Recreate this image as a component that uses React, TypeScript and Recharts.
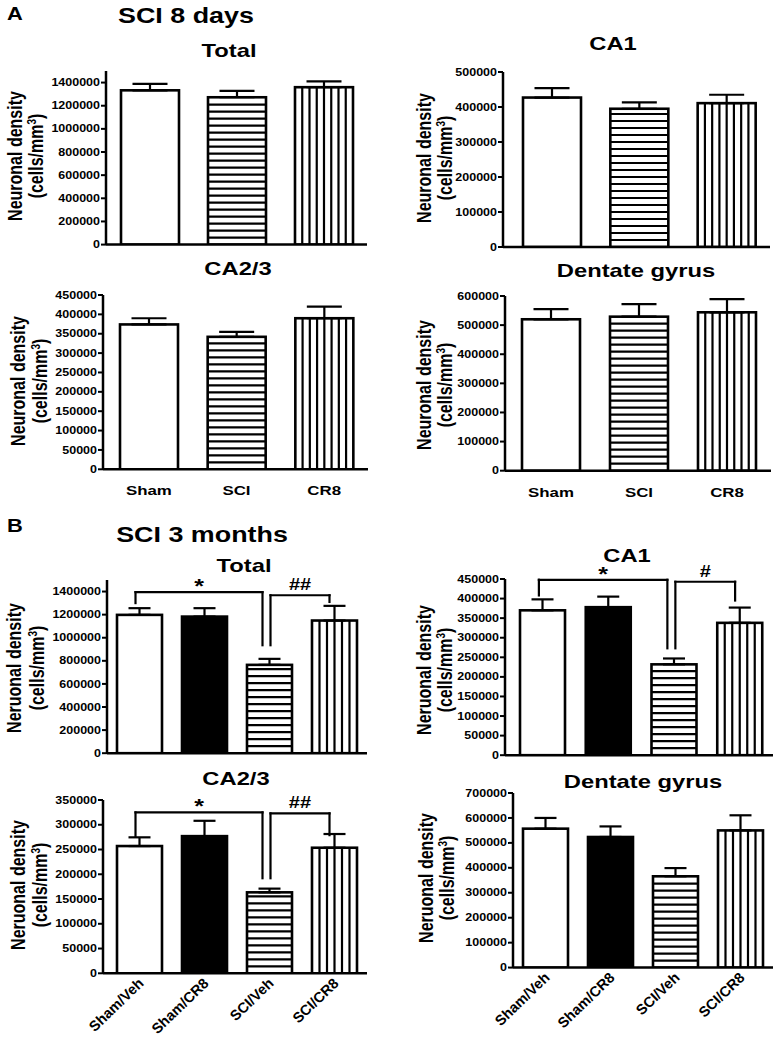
import React from 'react';
import { BarChart, Bar, XAxis, YAxis, ErrorBar, ReferenceLine } from 'recharts';

const FONT = '"Liberation Sans", Arial, Helvetica, sans-serif';
const SX = 1.25; // horizontal stretch of the original figure

// ---------- categories ----------
const groupsA = ['Sham', 'SCI', 'CR8'];
const groupsB = ['Sham/Veh', 'Sham/CR8', 'SCI/Veh', 'SCI/CR8'];

// ---------- SCI 8 days ----------
const a8TotalMean = [1333000, 1273000, 1360000];
const a8TotalErr = [56000, 55000, 51000];
const a8Ca1Mean = [427000, 395000, 411000];
const a8Ca1Err = [27000, 18000, 24000];
const a8Ca23Mean = [374000, 342000, 390000];
const a8Ca23Err = [16000, 13000, 30000];
const a8DgMean = [520000, 529000, 544000];
const a8DgErr = [35000, 43000, 45000];

// ---------- SCI 3 months ----------
const b3TotalMean = [1198000, 1183000, 765000, 1149000];
const b3TotalErr = [58000, 73000, 52000, 127000];
const b3Ca1Mean = [370000, 378000, 232000, 338000];
const b3Ca1Err = [28000, 27000, 15000, 39000];
const b3Ca23Mean = [257000, 277000, 163500, 253600];
const b3Ca23Err = [17600, 31000, 7500, 27700];
const b3DgMean = [557000, 523600, 366000, 550000];
const b3DgErr = [43000, 42400, 33000, 60600];

// ---------- tick values ----------
const ticksTotal = [0, 200000, 400000, 600000, 800000, 1000000, 1200000, 1400000];
const ticks500k = [0, 100000, 200000, 300000, 400000, 500000];
const ticks450k = [0, 50000, 100000, 150000, 200000, 250000, 300000, 350000, 400000, 450000];
const ticks600k = [0, 100000, 200000, 300000, 400000, 500000, 600000];
const ticks350k = [0, 50000, 100000, 150000, 200000, 250000, 300000, 350000];
const ticks700k = [0, 100000, 200000, 300000, 400000, 500000, 600000, 700000];

// ---------- significance brackets ----------
const bracketsBTotal = [
  { from: 'Sham/Veh', to: 'SCI/Veh', top: 1395000, fromLow: 1300000, toLow: 935000, label: '*' },
  { from: 'SCI/Veh', to: 'SCI/CR8', top: 1368000, fromLow: 935000, toLow: 1310000, label: '##' },
];
const bracketsBCa1 = [
  { from: 'Sham/Veh', to: 'SCI/Veh', top: 448000, fromLow: 408000, toLow: 273000, label: '*' },
  { from: 'SCI/Veh', to: 'SCI/CR8', top: 443000, fromLow: 273000, toLow: 395000, label: '#' },
];
const bracketsBCa23 = [
  { from: 'Sham/Veh', to: 'SCI/Veh', top: 325000, fromLow: 276000, toLow: 192000, label: '*' },
  { from: 'SCI/Veh', to: 'SCI/CR8', top: 323000, fromLow: 192000, toLow: 279000, label: '##' },
];

const patternsA = ['open', 'hstripe', 'vstripe'];
const patternsB = ['open', 'solid', 'hstripe', 'vstripe'];
const bracketDx = [
  [-4, -7],
  [1, -5],
];

function PatternBar(props: any) {
  const { x, y, width, height, pat } = props;
  if (!(height > 0)) return null;
  const lines: any[] = [];
  if (pat === 'hstripe') {
    for (let yy = y + height - 7; yy > y + 3; yy -= 7) {
      lines.push(<line key={'h' + yy} x1={x} x2={x + width} y1={yy} y2={yy} stroke="#000" strokeWidth={2.2} />);
    }
  } else if (pat === 'vstripe') {
    const n = Math.max(1, Math.round(width / 7.3));
    for (let k = 1; k < n; k++) {
      const xx = x + (k * width) / n;
      lines.push(<line key={'v' + k} x1={xx} x2={xx} y1={y} y2={y + height} stroke="#000" strokeWidth={2.2} />);
    }
  }
  return (
    <g>
      <rect x={x} y={y} width={width} height={height} fill={pat === 'solid' ? '#000' : '#fff'} />
      {lines}
      <rect x={x} y={y} width={width} height={height} fill="none" stroke="#000" strokeWidth={2.6} />
    </g>
  );
}

function YTick(props: any) {
  const { x, y, payload } = props;
  return (
    <g transform={`translate(${x},${y}) scale(${SX},1)`}>
      <text x={0} y={0} dy="0.36em" textAnchor="end" fontFamily={FONT} fontWeight="bold" fontSize={10} fill="#000">
        {payload.value}
      </text>
    </g>
  );
}

function XTickFlat(props: any) {
  const { x, payload, axisY } = props;
  return (
    <g transform={`translate(${x},${axisY + 26}) scale(${SX},1)`}>
      <text x={0} y={0} textAnchor="middle" fontFamily={FONT} fontWeight="bold" fontSize={13.5} fill="#000">
        {payload.value}
      </text>
    </g>
  );
}

function XTickRot(props: any) {
  const { x, payload, axisY } = props;
  return (
    <g transform={`translate(${x + 5},${axisY + 11}) rotate(-44)`}>
      <text x={0} y={0} textAnchor="end" fontFamily={FONT} fontWeight="bold" fontSize={14.5} fill="#000">
        {payload.value}
      </text>
    </g>
  );
}

function renderBrackets(brackets: any[]) {
  const out: any[] = [];
  brackets.forEach((b, i) => {
    const [dxL, dxR] = bracketDx[i];
    const isStar = b.label === '*';
    out.push(
      <ReferenceLine
        key={'t' + i}
        segment={[{ x: b.from, y: b.top }, { x: b.to, y: b.top }]}
        ifOverflow="visible"
        shape={(p: any) => {
          const xa = p.x1 + dxL;
          const xb = p.x2 + dxR;
          const mid = (xa + xb) / 2;
          return (
            <g>
              <line x1={xa} x2={xb} y1={p.y1} y2={p.y2} stroke="#000" strokeWidth={2.2} strokeLinecap="square" />
              <g transform={`translate(${mid},${p.y1 + (isStar ? 1 : -5)}) scale(${SX},1)`}>
                <text x={0} y={0} textAnchor="middle" fontFamily={FONT} fontWeight="bold" fontSize={isStar ? 20 : 16} fill="#000">
                  {b.label}
                </text>
              </g>
            </g>
          );
        }}
      />
    );
    out.push(
      <ReferenceLine
        key={'l' + i}
        segment={[{ x: b.from, y: b.top }, { x: b.from, y: b.fromLow }]}
        ifOverflow="visible"
        shape={(p: any) => (
          <line x1={p.x1 + dxL} x2={p.x2 + dxL} y1={p.y1} y2={p.y2} stroke="#000" strokeWidth={2.2} strokeLinecap="square" />
        )}
      />
    );
    out.push(
      <ReferenceLine
        key={'r' + i}
        segment={[{ x: b.to, y: b.top }, { x: b.to, y: b.toLow }]}
        ifOverflow="visible"
        shape={(p: any) => (
          <line x1={p.x1 + dxR} x2={p.x2 + dxR} y1={p.y1} y2={p.y2} stroke="#000" strokeWidth={2.2} strokeLinecap="square" />
        )}
      />
    );
  });
  return out;
}

function Panel(props: any) {
  const { x0, x1, yTop, yBot, padL, groups, means, errs, patterns, yMax, ticks, barSize, capW, xLabels, brackets } = props;
  const mL = 60, mT = 30, mR = 10, mB = 10, xH = 70;
  const width = x1 - x0 + mL + mR;
  const height = yBot - yTop + mT + mB + xH;
  const axisY = yBot - yTop + mT;
  const data = groups.map((g: string, i: number) => ({ name: g, value: means[i], err: [0, errs[i]] }));
  let tick: any = false;
  if (xLabels === 'flat') tick = (p: any) => <XTickFlat {...p} axisY={axisY} />;
  if (xLabels === 'rot') tick = (p: any) => <XTickRot {...p} axisY={axisY} />;
  return (
    <div style={{ position: 'absolute', left: x0 - mL, top: yTop - mT }}>
      <BarChart width={width} height={height} data={data} margin={{ top: mT, right: mR, left: 0, bottom: mB }}>
        <XAxis
          dataKey="name"
          height={xH}
          axisLine={{ stroke: '#000', strokeWidth: 2.5 }}
          tickLine={false}
          padding={{ left: padL, right: 0 }}
          tick={tick}
          interval={0}
        />
        <YAxis
          width={mL}
          domain={[0, yMax]}
          ticks={ticks}
          allowDataOverflow
          interval={0}
          axisLine={{ stroke: '#000', strokeWidth: 2.5 }}
          tickLine={{ stroke: '#000', strokeWidth: 2 }}
          tickSize={5}
          tickMargin={1}
          tick={(p: any) => <YTick {...p} />}
        />
        <Bar
          dataKey="value"
          barSize={barSize}
          isAnimationActive={false}
          shape={(p: any) => <PatternBar {...p} pat={patterns[p.index]} />}
        >
          <ErrorBar dataKey="err" width={capW} strokeWidth={2.2} stroke="#000" direction="y" />
        </Bar>
        {brackets ? renderBrackets(brackets) : null}
      </BarChart>
    </div>
  );
}

function T(props: any) {
  const { x, y, size, anchor = 'middle', rot = false, children } = props;
  return (
    <g transform={`translate(${x},${y}) scale(${SX},1)${rot ? ' rotate(-90)' : ''}`}>
      <text x={0} y={0} textAnchor={anchor} fontFamily={FONT} fontWeight="bold" fontSize={size} fill="#000">
        {children}
      </text>
    </g>
  );
}

function YLabel(props: any) {
  const { x1, x2, cy, word } = props;
  return (
    <g>
      <T x={x1} y={cy} size={16} rot>
        {word}
      </T>
      <T x={x2} y={cy} size={16} rot>
        (cells/mm
        <tspan dy={-6} fontSize={10}>3</tspan>
        <tspan dy={6}>)</tspan>
      </T>
    </g>
  );
}

export default function App() {
  return (
    <div style={{ position: 'absolute', left: 0, top: 0, width: 777, height: 1037, background: '#fff', overflow: 'hidden' }}>
      <svg width={777} height={1037} style={{ position: 'absolute', left: 0, top: 0 }}>
        <T x={7} y={20} size={17.5} anchor="start">A</T>
        <T x={186} y={23} size={21.5}>SCI 8 days</T>
        <T x={229} y={56.5} size={19}>Total</T>
        <T x={613} y={50} size={19}>CA1</T>
        <T x={238} y={275} size={19}>CA2/3</T>
        <T x={636} y={277} size={19}>Dentate gyrus</T>
        <T x={7} y={532} size={17.5} anchor="start">B</T>
        <T x={202} y={542} size={21.5}>SCI 3 months</T>
        <T x={244} y={571.5} size={19}>Total</T>
        <T x={627} y={561.5} size={19}>CA1</T>
        <T x={236} y={785} size={19}>CA2/3</T>
        <T x={643} y={788} size={19}>Dentate gyrus</T>

        <YLabel x1={22} x2={43} cy={156} word="Neuronal density" />
        <YLabel x1={431} x2={452} cy={158} word="Neuronal density" />
        <YLabel x1={25} x2={47} cy={381} word="Neuronal density" />
        <YLabel x1={431} x2={452} cy={385} word="Neuronal density" />
        <YLabel x1={21} x2={44} cy={668} word="Neruonal density" />
        <YLabel x1={431} x2={452} cy={670} word="Neruonal density" />
        <YLabel x1={25} x2={47} cy={885} word="Neruonal density" />
        <YLabel x1={433} x2={454} cy={878} word="Neruonal density" />
      </svg>

      <Panel x0={106} x1={367} yTop={71.4} yBot={245} padL={0} groups={groupsA} means={a8TotalMean} errs={a8TotalErr}
        patterns={patternsA} yMax={1500000} ticks={ticksTotal} barSize={58} capW={17.5} xLabels="none" />
      <Panel x0={503} x1={770} yTop={71.7} yBot={246.7} padL={5} groups={groupsA} means={a8Ca1Mean} errs={a8Ca1Err}
        patterns={patternsA} yMax={500000} ticks={ticks500k} barSize={58} capW={17.5} xLabels="none" />
      <Panel x0={103} x1={368} yTop={295} yBot={469.3} padL={2} groups={groupsA} means={a8Ca23Mean} errs={a8Ca23Err}
        patterns={patternsA} yMax={450000} ticks={ticks450k} barSize={58} capW={17.5} xLabels="flat" />
      <Panel x0={505} x1={771} yTop={296} yBot={470.7} padL={2} groups={groupsA} means={a8DgMean} errs={a8DgErr}
        patterns={patternsA} yMax={600000} ticks={ticks600k} barSize={58} capW={17.5} xLabels="flat" />

      <Panel x0={107} x1={367} yTop={579.8} yBot={753} padL={0} groups={groupsB} means={b3TotalMean} errs={b3TotalErr}
        patterns={patternsB} yMax={1500000} ticks={ticksTotal} barSize={45} capW={11} xLabels="none" brackets={bracketsBTotal} />
      <Panel x0={505} x1={773} yTop={579.3} yBot={755.5} padL={5} groups={groupsB} means={b3Ca1Mean} errs={b3Ca1Err}
        patterns={patternsB} yMax={450000} ticks={ticks450k} barSize={45} capW={11} xLabels="none" brackets={bracketsBCa1} />
      <Panel x0={103} x1={367} yTop={800} yBot={973.3} padL={4} groups={groupsB} means={b3Ca23Mean} errs={b3Ca23Err}
        patterns={patternsB} yMax={350000} ticks={ticks350k} barSize={45} capW={11} xLabels="rot" brackets={bracketsBCa23} />
      <Panel x0={513} x1={773} yTop={792.7} yBot={967.3} padL={0} groups={groupsB} means={b3DgMean} errs={b3DgErr}
        patterns={patternsB} yMax={700000} ticks={ticks700k} barSize={45} capW={11} xLabels="rot" />
    </div>
  );
}
